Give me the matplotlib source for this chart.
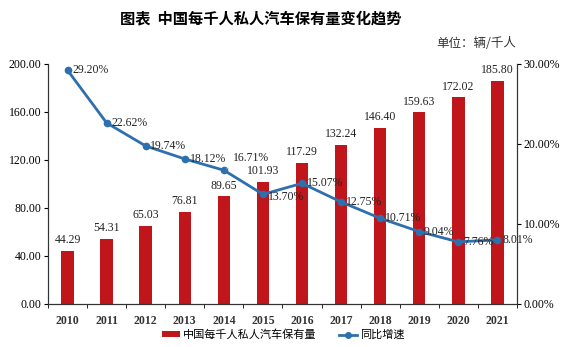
import numpy as np
import matplotlib.pyplot as plt
from matplotlib.lines import Line2D
from matplotlib.patches import Patch

years = ['2010', '2011', '2012', '2013', '2014', '2015', '2016', '2017', '2018', '2019', '2020', '2021']
ownership = [44.29, 54.31, 65.03, 76.81, 89.65, 101.93, 117.29, 132.24, 146.40, 159.63, 172.02, 185.80]
growth = [29.20, 22.62, 19.74, 18.12, 16.71, 13.70, 15.07, 12.75, 10.71, 9.04, 7.76, 8.01]

cjk = ['Noto Sans CJK SC', 'DejaVu Sans']
serif = 'Liberation Serif'
bar_color = '#C0151B'
line_color = '#2E6FAE'

fig = plt.figure(figsize=(5.67, 3.47), dpi=100)
ax = fig.add_axes([0.0847, 0.124, 0.827, 0.692])
ax2 = ax.twinx()

x = np.arange(len(years))
ax.bar(x, ownership, width=0.32, color=bar_color, zorder=2)
for xi, v in zip(x, ownership):
    ax.text(xi, v + 4, f'{v:.2f}', ha='center', va='bottom', fontsize=8.5, family=serif, color='#222222')

ax.set_xlim(-0.5, len(years) - 0.5)
ax.set_ylim(0, 200)
ax.set_yticks(np.arange(0, 201, 40))
ax.set_yticklabels([f'{v:.2f}' for v in np.arange(0, 201, 40)], family=serif, fontsize=8.5)
ax.set_xticks(x)
ax.set_xticklabels(years, family=serif, fontsize=8.5, fontweight='bold', color='#333333')
ax.set_xticks(np.arange(-0.5, len(years)), minor=True)
ax.tick_params(axis='x', which='major', length=0, pad=8)
ax.tick_params(axis='x', which='minor', length=3, direction='out')
ax.tick_params(axis='y', length=3, direction='out', pad=2)

ax2.plot(x, growth, color=line_color, lw=2, marker='o', ms=4.5, zorder=3)
ax2.set_ylim(0, 30)
ax2.set_yticks([0, 10, 20, 30])
ax2.set_yticklabels([f'{v:.2f}%' for v in [0, 10, 20, 30]], family=serif, fontsize=8.5)
ax2.tick_params(axis='y', length=3, direction='out', pad=2)

for i, g in enumerate(growth):
    dx, dy = 0.12, 0
    if i == 4:
        ax2.annotate(f'{g:.2f}%', xy=(x[i], g), xytext=(x[i] + 0.22, g + 1.5),
                     fontsize=8.5, family=serif, va='center', color='#222222',
                     arrowprops=dict(arrowstyle='-', color='#aaaaaa', lw=0.6))
        continue
    if i == 5:
        dy = -0.3
    ax2.text(x[i] + dx, g + dy, f'{g:.2f}%', fontsize=8.5, family=serif,
             va='center', ha='left', color='#222222', zorder=4)

for a in (ax, ax2):
    a.spines['top'].set_visible(False)
    for s in ('left', 'right', 'bottom'):
        a.spines[s].set_color('#333333')
        a.spines[s].set_linewidth(0.8)

fig.text(0.46, 0.948, '图表  中国每千人私人汽车保有量变化趋势', ha='center', va='center',
         fontsize=11, fontweight='bold', family=cjk)
fig.text(0.91, 0.876, '单位：辆/千人', ha='right', va='center', fontsize=9, family=cjk, color='#333333')

handles = [Patch(facecolor=bar_color), Line2D([], [], color=line_color, lw=2, marker='o', ms=4)]
fig.legend(handles, ['中国每千人私人汽车保有量', '同比增速'], loc='center', bbox_to_anchor=(0.5, 0.035),
           ncol=2, frameon=False, prop={'family': cjk, 'size': 8}, handlelength=1.6,
           handleheight=0.5, columnspacing=2, handletextpad=0.3)

fig.savefig('out.png', dpi=100)
